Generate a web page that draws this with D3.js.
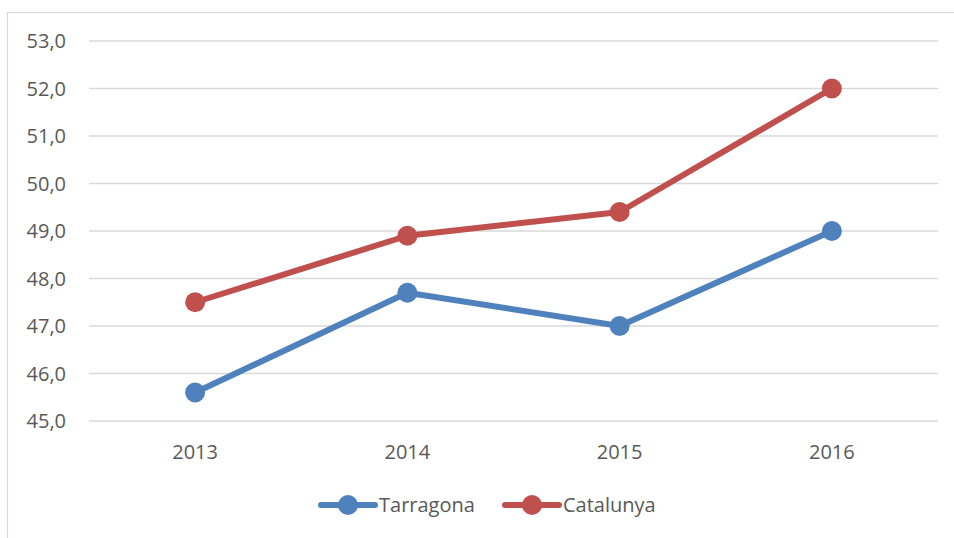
<!DOCTYPE html>
<html>
<head>
<meta charset="utf-8">
<script src="https://cdn.jsdelivr.net/npm/d3@7"></script>
<style>
  body { margin: 0; background: #fff; }
  svg text { font-family: "Open Sans", "Noto Sans", sans-serif; fill: #595959; }
</style>
</head>
<body>
<div id="container"></div>
<script>
const years = ["2013", "2014", "2015", "2016"]
const tarragona = [45.6, 47.7, 47.0, 49.0]
const catalunya = [47.5, 48.9, 49.4, 52.0]
const yTicks = [45, 46, 47, 48, 49, 50, 51, 52, 53]

const seriesList = [
    { name: "Tarragona", values: tarragona, color: "#4F81BD" },
    { name: "Catalunya", values: catalunya, color: "#C0504D" },
]

const width = 954, height = 538
const margin = { left: 89, right: 16, top: 41, bottom: 117 }

const svg = d3.select('#container')
    .append('svg').attr('width', width).attr('height', height)

// chart border
svg.append('rect')
    .attr('x', 7.5).attr('y', 12.5)
    .attr('width', 960).attr('height', 540)
    .attr('fill', 'none').attr('stroke', '#d9d9d9').attr('stroke-width', 1.2)

const x = d3.scaleBand().domain(years).range([margin.left, width - margin.right])
const y = d3.scaleLinear().domain([45, 53]).range([height - margin.bottom, margin.top])

// gridlines
svg.append('g')
    .selectAll('line').data(yTicks).join('line')
    .attr('x1', margin.left).attr('x2', width - margin.right)
    .attr('y1', d => y(d)).attr('y2', d => y(d))
    .attr('stroke', '#d9d9d9').attr('stroke-width', 1.3)

// y labels
svg.append('g')
    .selectAll('text').data(yTicks).join('text')
    .attr('x', 66).attr('y', d => y(d))
    .attr('dy', '0.35em')
    .attr('text-anchor', 'end')
    .style('font-size', '20px')
    .text(d => d3.format('.1f')(d).replace('.', ','))

// x labels
svg.append('g')
    .selectAll('text').data(years).join('text')
    .attr('x', d => x(d) + x.bandwidth() / 2)
    .attr('y', y(45) + 31)
    .attr('dy', '0.35em')
    .attr('text-anchor', 'middle')
    .style('font-size', '20px')
    .text(d => d)

const line = d3.line()
    .x((d, i) => x(years[i]) + x.bandwidth() / 2)
    .y(d => y(d))

seriesList.forEach(s => {
    const g = svg.append('g')
    g.append('path')
        .attr('d', line(s.values))
        .attr('fill', 'none')
        .attr('stroke', s.color)
        .attr('stroke-width', 6)
        .attr('stroke-linejoin', 'round')
        .attr('stroke-linecap', 'round')
    g.selectAll('circle').data(s.values).join('circle')
        .attr('cx', (d, i) => x(years[i]) + x.bandwidth() / 2)
        .attr('cy', d => y(d))
        .attr('r', 10)
        .attr('fill', s.color)
})

// legend
const legendX = [321, 505]
const legendY = 505
seriesList.forEach((s, i) => {
    const lg = svg.append('g').attr('transform', 'translate(' + legendX[i] + ',' + legendY + ')')
    lg.append('line')
        .attr('x1', 0).attr('x2', 54)
        .attr('stroke', s.color).attr('stroke-width', 6)
        .attr('stroke-linecap', 'round')
    lg.append('circle').attr('cx', 27).attr('r', 10).attr('fill', s.color)
    lg.append('text')
        .attr('x', 58).attr('dy', '0.35em')
        .style('font-size', '20px')
        .text(s.name)
})
</script>
</body>
</html>
